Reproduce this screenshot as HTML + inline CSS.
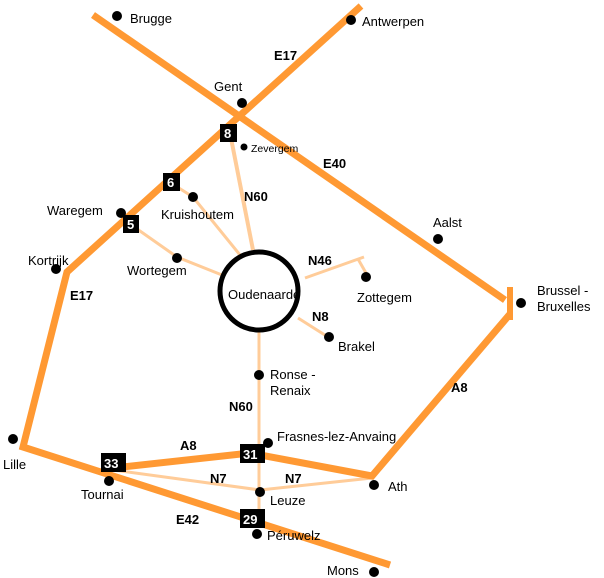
<!DOCTYPE html>
<html><head><meta charset="utf-8"><style>
html,body{margin:0;padding:0;background:#fff;}
svg{display:block;}
text{font-family:"Liberation Sans",Arial,sans-serif;font-size:13px;fill:#000;}
.b{font-weight:bold;font-size:13px;}
.w{fill:#fff;font-weight:bold;font-size:13px;}
</style></head><body>
<svg width="604" height="578" viewBox="0 0 604 578" xmlns="http://www.w3.org/2000/svg">
<g stroke="#FFCC99" fill="none" stroke-linecap="butt">
<line x1="230" y1="133" x2="253" y2="250" stroke-width="4"/>
<line x1="259" y1="330" x2="259" y2="520" stroke-width="3"/>
<polyline points="171,183 193,197 240,255" stroke-width="3"/>
<polyline points="130,224 177,257 222,275" stroke-width="3"/>
<line x1="305" y1="278" x2="364" y2="257" stroke-width="3"/>
<line x1="358" y1="259" x2="366" y2="273" stroke-width="3"/>
<line x1="298" y1="318" x2="328" y2="337" stroke-width="3"/>
<polyline points="113,470 260,490 372,478" stroke-width="3"/>
</g>
<g stroke="#FF9933" fill="none" stroke-width="7" stroke-linejoin="miter">
<line x1="93" y1="15" x2="505" y2="300"/>
<polyline points="361,6 67,272 23,447 390,565"/>
<polyline points="113,468 250,453 372,476 510,314"/>
<line x1="510" y1="287" x2="510" y2="320" stroke-width="6"/>
</g>
<circle cx="259" cy="291" r="39" fill="#fff" stroke="#000" stroke-width="5"/>
<g fill="#000">
<circle cx="117" cy="16" r="5"/><circle cx="351" cy="20" r="5"/>
<circle cx="242" cy="103" r="5"/><circle cx="244" cy="147" r="3.5"/>
<circle cx="193" cy="197" r="5"/><circle cx="121" cy="213" r="5"/>
<circle cx="177" cy="258" r="5"/><circle cx="56" cy="269" r="5"/>
<circle cx="438" cy="239" r="5"/><circle cx="366" cy="277" r="5"/>
<circle cx="521" cy="303" r="5"/><circle cx="329" cy="337" r="5"/>
<circle cx="259" cy="375" r="5"/><circle cx="268" cy="443" r="5"/>
<circle cx="13" cy="439" r="5"/><circle cx="109" cy="481" r="5"/>
<circle cx="260" cy="492" r="5"/><circle cx="374" cy="485" r="5"/>
<circle cx="257" cy="534" r="5"/><circle cx="374" cy="572" r="5"/>
<rect x="220" y="124" width="17" height="18"/>
<rect x="163" y="173" width="17" height="18"/>
<rect x="123" y="215" width="16" height="18"/>
<rect x="101" y="453" width="25" height="19"/>
<rect x="240" y="444" width="25" height="19"/>
<rect x="240" y="509" width="25" height="19"/>
</g>
<text class="w" x="224" y="138">8</text>
<text class="w" x="167" y="187">6</text>
<text class="w" x="127" y="229">5</text>
<text class="w" x="104" y="468">33</text>
<text class="w" x="243" y="459">31</text>
<text class="w" x="243" y="524">29</text>
<text x="130" y="23">Brugge</text>
<text x="362" y="26">Antwerpen</text>
<text x="214" y="91">Gent</text>
<text x="251" y="152" style="font-size:10.5px">Zevergem</text>
<text x="161" y="219">Kruishoutem</text>
<text x="47" y="215">Waregem</text>
<text x="127" y="275">Wortegem</text>
<text x="28" y="265">Kortrijk</text>
<text x="433" y="227">Aalst</text>
<text x="357" y="302">Zottegem</text>
<text x="537" y="295">Brussel -</text>
<text x="537" y="311">Bruxelles</text>
<text x="338" y="351">Brakel</text>
<text x="270" y="379">Ronse -</text>
<text x="270" y="395">Renaix</text>
<text x="277" y="441">Frasnes-lez-Anvaing</text>
<text x="3" y="469">Lille</text>
<text x="81" y="499">Tournai</text>
<text x="270" y="505">Leuze</text>
<text x="388" y="491">Ath</text>
<text x="267" y="540">Péruwelz</text>
<text x="327" y="575">Mons</text>
<text x="228" y="299">Oudenaarde</text>
<text class="b" x="274" y="60">E17</text>
<text class="b" x="323" y="168">E40</text>
<text class="b" x="244" y="201">N60</text>
<text class="b" x="308" y="265">N46</text>
<text class="b" x="312" y="321">N8</text>
<text class="b" x="70" y="300">E17</text>
<text class="b" x="451" y="392">A8</text>
<text class="b" x="229" y="411">N60</text>
<text class="b" x="180" y="450">A8</text>
<text class="b" x="210" y="483">N7</text>
<text class="b" x="285" y="483">N7</text>
<text class="b" x="176" y="524">E42</text>
</svg>
</body></html>
